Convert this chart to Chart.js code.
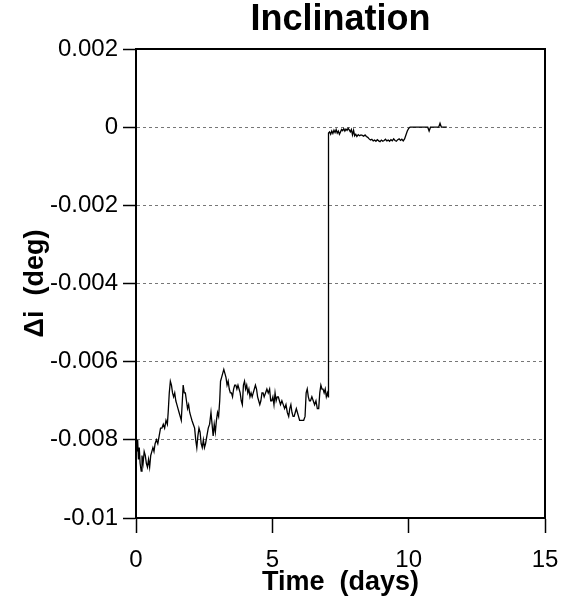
<!DOCTYPE html>
<html>
<head>
<meta charset="utf-8">
<script src="https://cdn.jsdelivr.net/npm/chart.js@4/dist/chart.umd.min.js"></script>
<style>
  body { margin: 0; background: #fff; }
</style>
</head>
<body>
<canvas id="inclChart" width="577" height="601"></canvas>
<script>
// time in days and inclination change in degrees
const days = [
  0.00, 0.03, 0.06, 0.09, 0.12, 0.15, 0.19, 0.22, 0.26, 0.30, 0.34, 0.38, 0.42, 0.46, 0.50,
  0.54, 0.58, 0.62, 0.66, 0.70, 0.75, 0.80, 0.85, 0.90, 0.95, 1.00, 1.05, 1.10, 1.15, 1.18,
  1.22, 1.26, 1.30, 1.34, 1.38, 1.42, 1.46, 1.50, 1.54, 1.58, 1.62, 1.66, 1.70, 1.73, 1.77,
  1.81, 1.85, 1.89, 1.93, 1.97, 2.01, 2.05, 2.10, 2.15, 2.19, 2.23, 2.27, 2.31, 2.35, 2.39,
  2.43, 2.47, 2.51, 2.55, 2.60, 2.65, 2.70, 2.75, 2.79, 2.83, 2.87, 2.91, 2.95, 2.99, 3.03,
  3.07, 3.10, 3.14, 3.18, 3.22, 3.26, 3.30, 3.34, 3.38, 3.42, 3.46, 3.50, 3.54, 3.58, 3.62,
  3.66, 3.70, 3.74, 3.78, 3.82, 3.86, 3.90, 3.94, 3.98, 4.02, 4.06, 4.10, 4.14, 4.18, 4.22,
  4.26, 4.30, 4.34, 4.38, 4.42, 4.46, 4.50, 4.54, 4.58, 4.62, 4.66, 4.70, 4.75, 4.80, 4.85,
  4.90, 4.94, 4.98, 5.02, 5.06, 5.10, 5.14, 5.18, 5.22, 5.26, 5.30, 5.35, 5.40, 5.45, 5.50,
  5.55, 5.60, 5.64, 5.68, 5.72, 5.76, 5.80, 5.84, 5.88, 5.92, 5.96, 6.00, 6.05, 6.10, 6.15,
  6.20, 6.24, 6.28, 6.32, 6.36, 6.40, 6.45, 6.50, 6.55, 6.60, 6.65, 6.70, 6.74, 6.78, 6.82,
  6.86, 6.90, 6.94, 6.98, 7.02, 7.05, 7.06, 7.10, 7.14, 7.18, 7.22, 7.26, 7.30, 7.34, 7.38,
  7.42, 7.46, 7.50, 7.54, 7.58, 7.62, 7.66, 7.70, 7.74, 7.78, 7.82, 7.86, 7.90, 7.94, 7.98,
  8.02, 8.06, 8.10, 8.15, 8.20, 8.25, 8.30, 8.35, 8.40, 8.45, 8.50, 8.55, 8.60, 8.65, 8.70,
  8.75, 8.80, 8.85, 8.90, 8.95, 9.00, 9.05, 9.10, 9.15, 9.20, 9.25, 9.30, 9.35, 9.40, 9.45,
  9.50, 9.55, 9.60, 9.65, 9.70, 9.75, 9.80, 9.85, 9.90, 9.95, 10.00, 10.05, 10.70, 10.75, 10.80,
  11.10, 11.15, 11.20, 11.40
];
const deltaI = [
  -0.0081, -0.0083, -0.0080, -0.0085, -0.0082, -0.0086, -0.0088, -0.0084, -0.0086, -0.0083, -0.0084, -0.0086, -0.0087, -0.0085, -0.0087,
  -0.0084, -0.0083, -0.0082, -0.0083, -0.0081, -0.0080, -0.0081, -0.0079, -0.0077, -0.0077, -0.0076, -0.0077, -0.0075, -0.0076, -0.0073,
  -0.0068, -0.0065, -0.0066, -0.0068, -0.0069, -0.0068, -0.0070, -0.0071, -0.0072, -0.0073, -0.0074, -0.0075, -0.0070, -0.0066, -0.0068,
  -0.0068, -0.0070, -0.0072, -0.0071, -0.0073, -0.0074, -0.0075, -0.0076, -0.0077, -0.0080, -0.0082, -0.0079, -0.0077, -0.0078, -0.0081,
  -0.0082, -0.0080, -0.0082, -0.0081, -0.0079, -0.0077, -0.0076, -0.0073, -0.0076, -0.0079, -0.0076, -0.0078, -0.0075, -0.0073, -0.0074,
  -0.0070, -0.0065, -0.0064, -0.0063, -0.0062, -0.0063, -0.0064, -0.0066, -0.0065, -0.0067, -0.0068, -0.0068, -0.0069, -0.0067, -0.0066,
  -0.0066, -0.0067, -0.0066, -0.0067, -0.0068, -0.0070, -0.0071, -0.0066, -0.0065, -0.0067, -0.0066, -0.0068, -0.0067, -0.0069, -0.0068,
  -0.0069, -0.0068, -0.0067, -0.0066, -0.0067, -0.0069, -0.0070, -0.0071, -0.0070, -0.0068, -0.0068, -0.0069, -0.0068, -0.0067, -0.0068,
  -0.0067, -0.0070, -0.0070, -0.0069, -0.0071, -0.0068, -0.0070, -0.0069, -0.0069, -0.0070, -0.0071, -0.0070, -0.0071, -0.0072, -0.0071,
  -0.0073, -0.0074, -0.0072, -0.0071, -0.0073, -0.0074, -0.0074, -0.0073, -0.0072, -0.0073, -0.0074, -0.0075, -0.0075, -0.0075, -0.0075,
  -0.0074, -0.0068, -0.0067, -0.0069, -0.0070, -0.0070, -0.0069, -0.0070, -0.0071, -0.0070, -0.0072, -0.0072, -0.0068, -0.0066, -0.0067,
  -0.0067, -0.0068, -0.0067, -0.0069, -0.0068, -0.0069, -0.00015, -0.00012, -0.00018, -0.00010, -0.00016, -0.00008, -0.00014, -0.00006, -0.00015,
  -0.00010, -0.00018, -0.00012, -0.00006, -0.00009, -0.00004, -0.00010, -0.00005, -0.00008, -0.00003, -0.00007, -0.00012, -0.00006, -0.00020, -0.00008,
  -0.00022, -0.00018, -0.00024, -0.00019, -0.00022, -0.00020, -0.00021, -0.00023, -0.00020, -0.00024, -0.00026, -0.00030, -0.00033, -0.00031, -0.00035,
  -0.00033, -0.00036, -0.00032, -0.00035, -0.00037, -0.00033, -0.00036, -0.00034, -0.00031, -0.00035, -0.00033, -0.00036, -0.00032, -0.00035, -0.00030,
  -0.00034, -0.00036, -0.00032, -0.00030, -0.00034, -0.00031, -0.00035, -0.00030, -0.00020, -0.00010, -0.00003, 0, 0, -0.00010, 0,
  0, 0.00010, 0, 0
];
const xTicks = [0, 5, 10, 15];
const yTicks = [0.002, 0, -0.002, -0.004, -0.006, -0.008, -0.01];

const font = '"Liberation Sans", Arial, Helvetica, sans-serif';

const ctx = document.getElementById('inclChart').getContext('2d');
new Chart(ctx, {
    type: 'line',
    data: {
        datasets: [{
            data: days.map((d, i) => ({ x: d, y: deltaI[i] })),
            borderColor: '#000',
            borderWidth: 1.3,
            pointRadius: 0,
            tension: 0,
            fill: false
        }]
    },
    options: {
        responsive: false,
        animation: false,
        layout: { padding: { top: 0, left: 0, right: 31, bottom: 0 } },
        plugins: {
            legend: { display: false },
            tooltip: { enabled: false },
            title: {
                display: true,
                text: 'Inclination',
                fullSize: false,
                color: '#000',
                font: { family: font, size: 36, weight: 'bold', lineHeight: 1 },
                padding: { top: 2, bottom: 9 }
            }
        },
        scales: {
            x: {
                type: 'linear',
                min: xTicks[0],
                max: xTicks[xTicks.length - 1],
                afterBuildTicks: s => { s.ticks = xTicks.map(v => ({ value: v })); },
                afterFit: s => { s.height = 83; },
                grid: { drawOnChartArea: false, tickLength: 15, tickColor: '#000', tickWidth: 1.5 },
                border: { color: '#000', width: 2 },
                ticks: { color: '#000', padding: 13, maxRotation: 0, font: { family: font, size: 24 } },
                title: {
                    display: true,
                    text: 'Time  (days)',
                    color: '#000',
                    font: { family: font, size: 27, weight: 'bold', lineHeight: 1 },
                    padding: { top: 0, bottom: 5 }
                }
            },
            y: {
                type: 'linear',
                min: -0.01,
                max: 0.002,
                afterBuildTicks: s => { s.ticks = yTicks.map(v => ({ value: v })); },
                afterFit: s => { s.width = 136; },
                grid: {
                    color: '#777',
                    lineWidth: 1,
                    tickLength: 13,
                    tickColor: '#000',
                    tickWidth: 1.5,
                    tickBorderDash: []
                },
                border: { color: '#000', width: 2, dash: [3, 3] },
                ticks: {
                    color: '#000',
                    padding: 5,
                    font: { family: font, size: 24 },
                    callback: v => String(Number(v.toFixed(3)))
                },
                title: {
                    display: true,
                    text: 'Δi  (deg)',
                    color: '#000',
                    font: { family: font, size: 27, weight: 'bold', lineHeight: 1 },
                    padding: { top: 22, bottom: 0 }
                }
            },
            x2: {
                type: 'linear',
                position: 'top',
                afterFit: s => { s.height = 2; },
                grid: { display: false },
                ticks: { display: false },
                border: { display: true, color: '#000', width: 2 }
            },
            y2: {
                type: 'linear',
                position: 'right',
                afterFit: s => { s.width = 1; },
                grid: { display: false },
                ticks: { display: false },
                border: { display: true, color: '#000', width: 2 }
            }
        }
    }
});
</script>
</body>
</html>
